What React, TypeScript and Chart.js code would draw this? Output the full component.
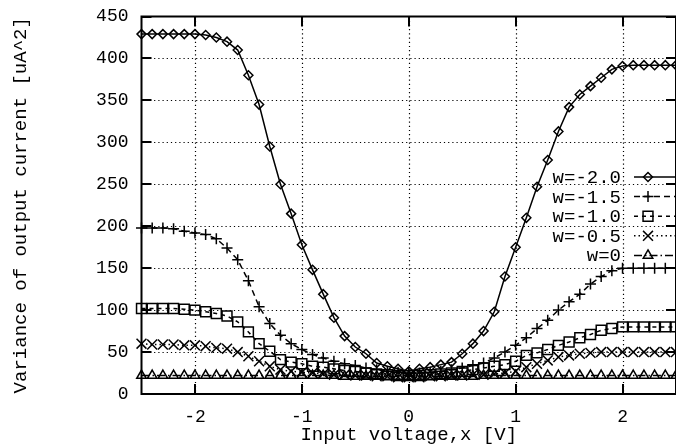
import { useEffect, useRef } from "react";
import { Chart, registerables } from "chart.js";
import { drawPoint } from "chart.js/helpers";

Chart.register(...registerables);

const xValues = [
  -2.5, -2.4, -2.3, -2.2, -2.1, -2.0, -1.9, -1.8, -1.7, -1.6, -1.5, -1.4, -1.3,
  -1.2, -1.1, -1.0, -0.9, -0.8, -0.7, -0.6, -0.5, -0.4, -0.3, -0.2, -0.1, 0.0,
  0.1, 0.2, 0.3, 0.4, 0.5, 0.6, 0.7, 0.8, 0.9, 1.0, 1.1, 1.2, 1.3, 1.4, 1.5,
  1.6, 1.7, 1.8, 1.9, 2.0, 2.1, 2.2, 2.3, 2.4, 2.5,
];

const wMinus20 = [
  429, 429, 429, 429, 429, 429, 428, 425, 420, 410, 380, 345, 295, 250, 215,
  178, 148, 119, 91, 69, 56, 48, 37, 33, 30, 27, 30, 32, 35, 38, 48, 60, 75,
  98, 140, 175, 210, 247, 279, 313, 342, 357, 367, 377, 387, 391, 392, 392,
  392, 392, 392,
];

const wMinus15 = [
  198, 198, 198, 197, 194, 192, 190, 185, 174, 160, 135, 104, 84, 70, 60, 53,
  47, 43, 39, 36, 34, 31, 29, 27, 26, 25, 25, 26, 27, 29, 31, 34, 37, 43, 50,
  58, 67, 78, 88, 100, 110, 119, 131, 140, 147, 150, 150, 150, 150, 150, 150,
];

const wMinus10 = [
  102, 102, 102, 102, 101, 100, 98, 96, 93, 86, 74, 60, 51, 41, 38, 36, 33, 32,
  30, 28, 27, 25, 24, 23, 22, 22, 22, 23, 24, 25, 27, 29, 31, 33, 35, 39, 46,
  49, 53, 58, 62, 67, 71, 76, 78, 80, 80, 80, 80, 80, 80,
];

const wMinus05 = [
  60, 59, 59, 59, 58, 58, 57, 55, 54, 50, 45, 39, 33, 29, 27, 26, 25, 24, 23,
  23, 22, 22, 21, 21, 20, 20, 20, 21, 21, 22, 22, 23, 23, 24, 25, 27, 32, 36,
  40, 44, 46, 48, 49, 50, 50, 50, 50, 50, 50, 50, 50,
];

const wZero = [
  22, 22, 22, 22, 22, 22, 22, 22, 22, 22, 22, 22, 22, 22, 22, 22, 22, 22, 22,
  21, 21, 21, 21, 21, 21, 21, 21, 21, 21, 21, 21, 21, 22, 22, 22, 22, 22, 22,
  22, 22, 22, 22, 22, 22, 22, 22, 22, 22, 22, 22, 22,
];

const seriesLabels = ["w=-2.0", "w=-1.5", "w=-1.0", "w=-0.5", "w=0"];
const xTickValues = [-2, -1, 0, 1, 2];
const yTickValues = [0, 50, 100, 150, 200, 250, 300, 350, 400, 450];

const MONO = "'Liberation Mono', 'DejaVu Sans Mono', monospace";

const styles = [
  { pointStyle: "rectRot", radius: 4.5, dash: [] as number[] },
  { pointStyle: "cross", radius: 5.5, dash: [6, 4] },
  { pointStyle: "rect", radius: 7, dash: [4, 4] },
  { pointStyle: "crossRot", radius: 7, dash: [1.5, 3] },
  { pointStyle: "triangle", radius: 5.5, dash: [8, 3, 1.5, 3] },
];

const seriesData = [wMinus20, wMinus15, wMinus10, wMinus05, wZero];

const framePlugin = {
  id: "frame",
  beforeDatasetsDraw(chart: any) {
    const { ctx, chartArea } = chart;
    const { left, right, top, bottom } = chartArea;
    const xs = chart.scales.x;
    const ys = chart.scales.y;
    ctx.save();
    ctx.strokeStyle = "#000";
    ctx.lineWidth = 1.2;
    ctx.setLineDash([1.2, 3]);
    for (const v of xTickValues) {
      const px = Math.round(xs.getPixelForValue(v)) + 0.5;
      ctx.beginPath();
      ctx.moveTo(px, top);
      ctx.lineTo(px, bottom);
      ctx.stroke();
    }
    for (const v of yTickValues) {
      if (v === 0 || v === 450) continue;
      const py = Math.round(ys.getPixelForValue(v)) + 0.5;
      ctx.beginPath();
      ctx.moveTo(left, py);
      ctx.lineTo(right, py);
      ctx.stroke();
    }
    ctx.setLineDash([]);
    ctx.lineWidth = 2;
    for (const v of xTickValues) {
      const px = Math.round(xs.getPixelForValue(v));
      ctx.beginPath();
      ctx.moveTo(px, top);
      ctx.lineTo(px, top + 10);
      ctx.moveTo(px, bottom);
      ctx.lineTo(px, bottom - 10);
      ctx.stroke();
    }
    for (const v of yTickValues) {
      const py = Math.round(ys.getPixelForValue(v));
      ctx.beginPath();
      ctx.moveTo(left, py);
      ctx.lineTo(left + 10, py);
      ctx.moveTo(right, py);
      ctx.lineTo(right - 10, py);
      ctx.stroke();
    }
    ctx.lineWidth = 2;
    ctx.strokeRect(left, top, right - left, bottom - top);
    ctx.restore();
  },
  afterDraw(chart: any) {
    const { ctx } = chart;
    ctx.save();
    ctx.font = `19px ${MONO}`;
    ctx.textAlign = "right";
    ctx.textBaseline = "middle";
    chart.data.datasets.forEach((ds: any, i: number) => {
      const y = 177 + i * 19.6;
      ctx.fillStyle = "#000";
      ctx.fillText(ds.label, 621, y + 1);
      ctx.strokeStyle = "#000";
      ctx.lineWidth = 1.5;
      ctx.setLineDash(styles[i].dash);
      ctx.beginPath();
      ctx.moveTo(634, y);
      ctx.lineTo(680, y);
      ctx.stroke();
      ctx.setLineDash([]);
      ctx.fillStyle = "rgba(0,0,0,0)";
      drawPoint(
        ctx,
        {
          pointStyle: styles[i].pointStyle,
          radius: styles[i].radius,
          rotation: 0,
          borderWidth: 1.5,
        } as any,
        648,
        y
      );
    });
    ctx.restore();
  },
};

export default function App() {
  const ref = useRef<HTMLCanvasElement | null>(null);
  useEffect(() => {
    if (!ref.current) return;
    const datasets = seriesData.map((s, i) => ({
      label: seriesLabels[i],
      data: xValues.map((x, j) => ({ x, y: s[j] })),
      borderColor: "#000",
      backgroundColor: "rgba(0,0,0,0)",
      borderWidth: 1.5,
      borderDash: styles[i].dash,
      pointStyle: styles[i].pointStyle,
      pointRadius: styles[i].radius,
      pointBorderColor: "#000",
      pointBackgroundColor: "rgba(0,0,0,0)",
      pointBorderWidth: 1.5,
      tension: 0,
      clip: false,
    }));
    const zeroPad = (s: any) => {
      s.paddingTop = 0;
      s.paddingBottom = 0;
      s.paddingLeft = 0;
      s.paddingRight = 0;
    };
    const chart = new Chart(ref.current, {
      type: "line",
      data: { datasets },
      options: {
        responsive: false,
        animation: false,
        layout: {
          autoPadding: false,
          padding: { top: 16.5, right: 0, bottom: 0, left: 0 },
        },
        plugins: { legend: { display: false }, tooltip: { enabled: false } },
        scales: {
          x: {
            type: "linear",
            min: -2.5,
            max: 2.5,
            afterBuildTicks: (s: any) => {
              s.ticks = xTickValues.map((v) => ({ value: v }));
            },
            afterFit: (s: any) => {
              s.height = 51;
              zeroPad(s);
            },
            grid: { display: false, drawTicks: false },
            border: { display: false },
            ticks: {
              color: "#000",
              font: { family: MONO, size: 18 },
              padding: 12,
              maxRotation: 0,
              callback: (v: any) => String(v),
            },
            title: {
              display: true,
              text: "Input voltage,x [V]",
              color: "#000",
              font: { family: MONO, size: 19, lineHeight: 1 },
              padding: { top: 0, bottom: 0.5 },
            },
          },
          y: {
            type: "linear",
            min: 0,
            max: 450,
            afterBuildTicks: (s: any) => {
              s.ticks = yTickValues.map((v) => ({ value: v }));
            },
            afterFit: (s: any) => {
              s.width = 141.5;
              zeroPad(s);
            },
            grid: { display: false, drawTicks: false },
            border: { display: false },
            ticks: {
              color: "#000",
              font: { family: MONO, size: 18 },
              padding: 13,
              callback: (v: any) => String(v),
            },
            title: {
              display: true,
              text: "Variance of output current [uA^2]",
              color: "#000",
              font: { family: MONO, size: 19, lineHeight: 1 },
              padding: { top: 11.5, bottom: 0 },
            },
          },
        },
      },
      plugins: [framePlugin],
    } as any);
    return () => chart.destroy();
  }, []);
  return (
    <canvas
      ref={ref}
      width={676}
      height={445}
      style={{ position: "fixed", left: 0, top: 0, width: 676, height: 445 }}
    />
  );
}
